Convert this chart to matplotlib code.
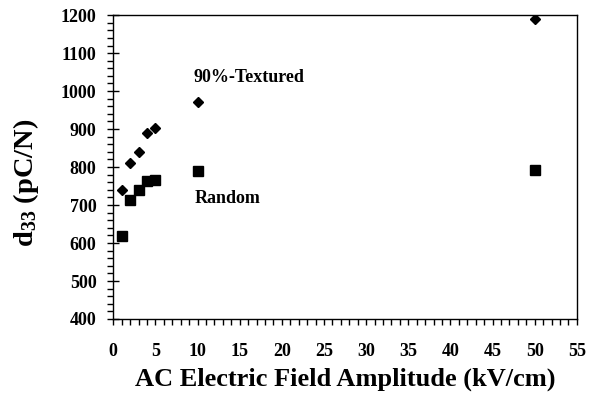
import matplotlib
matplotlib.use("Agg")
import matplotlib.pyplot as plt
from matplotlib.ticker import MultipleLocator

field = [1, 2, 3, 4, 5, 10, 50]
textured = [739, 810, 839, 889, 904, 970, 1189]
random_ = [618, 713, 739, 763, 766, 790, 792]

plt.rcParams['font.family'] = ['Liberation Serif', 'DejaVu Serif']
plt.rcParams['font.weight'] = 'bold'
plt.rcParams['mathtext.fontset'] = 'custom'
plt.rcParams['mathtext.rm'] = 'Liberation Serif:bold'
plt.rcParams['mathtext.bf'] = 'Liberation Serif:bold'
plt.rcParams['mathtext.it'] = 'Liberation Serif:bold'

fig = plt.figure(figsize=(5.96, 3.98), dpi=100)
ax = fig.add_axes([0.19, 0.1985, 0.778, 0.7635])

ax.plot(field, textured, linestyle='none', marker='D', markersize=5.5, color='black')
ax.plot(field, random_, linestyle='none', marker='s', markersize=7, color='black')

ax.text(9.5, 1037, '90%-Textured', fontsize=13, fontweight='bold', va='center', ha='left')
ax.text(9.6, 716, 'Random', fontsize=13, fontweight='bold', va='center', ha='left')

ax.set_xlim(0, 55)
ax.set_ylim(400, 1200)
ax.xaxis.set_major_locator(MultipleLocator(5))
ax.xaxis.set_minor_locator(MultipleLocator(1))
ax.yaxis.set_major_locator(MultipleLocator(100))
ax.yaxis.set_minor_locator(MultipleLocator(20))

ax.tick_params(axis='x', which='major', direction='out', length=4, width=1, labelsize=13, pad=13)
ax.tick_params(axis='x', which='minor', direction='out', length=4, width=1)
ax.tick_params(axis='y', which='major', direction='inout', length=8, width=1, labelsize=13, pad=8)
ax.tick_params(axis='y', which='minor', direction='out', length=4, width=1)
for lbl in ax.get_xticklabels() + ax.get_yticklabels():
    lbl.set_fontweight('bold')

for s in ax.spines.values():
    s.set_linewidth(1.0)

ax.set_xlabel('AC Electric Field Amplitude (kV/cm)', fontsize=19, fontweight='bold', labelpad=6)
ax.set_ylabel(r'd$_{\mathrm{33}}$ (pC/N)', fontsize=20.5, fontweight='bold')
ax.yaxis.set_label_coords(-0.155, 0.447)

fig.savefig('out.png', dpi=100)
